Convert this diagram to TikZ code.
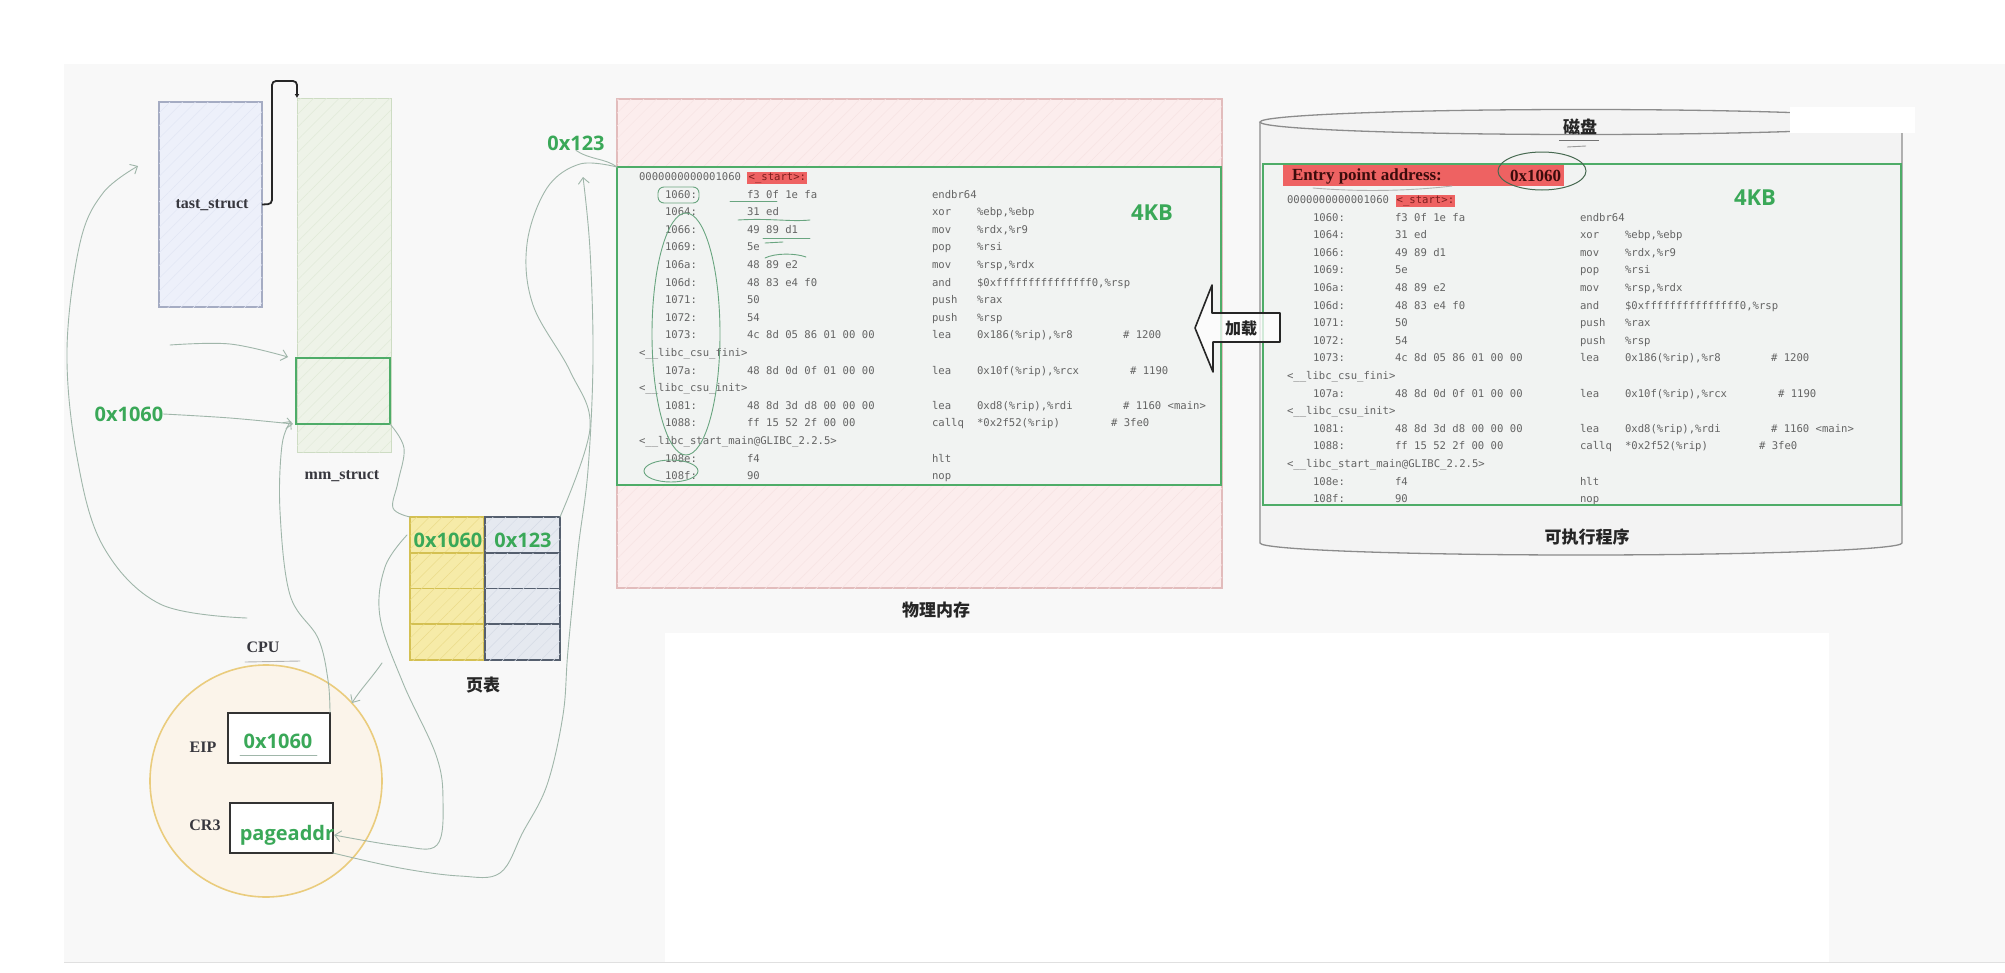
\documentclass[tikz,border=0pt]{standalone}
\usepackage{fontspec}
\setmainfont{Liberation Serif}
\newfontfamily\gsans{Open Sans}
\newfontfamily\cjk{Noto Sans CJK SC}
\newfontfamily\monof{DejaVu Sans Mono}
\usetikzlibrary{arrows.meta,patterns.meta,shapes.geometric}

\definecolor{pagebg}{RGB}{248,248,248}
\definecolor{gtext}{RGB}{58,168,88}
\definecolor{gborder}{RGB}{78,172,104}
\definecolor{darktext}{RGB}{55,55,62}
\definecolor{lstgray}{RGB}{100,100,100}
\definecolor{hl}{RGB}{238,98,98}
\definecolor{hltext}{RGB}{125,30,30}
\definecolor{entrytext}{RGB}{60,12,12}
\definecolor{curvecol}{RGB}{160,182,170}
\definecolor{notecol}{RGB}{105,165,128}
\definecolor{pinkfill}{RGB}{252,237,237}
\definecolor{pinkborder}{RGB}{226,188,188}
\definecolor{pinkhatch}{RGB}{247,227,227}
\definecolor{codefill}{RGB}{241,243,242}
\definecolor{tsfill}{RGB}{237,240,250}
\definecolor{tsborder}{RGB}{165,172,195}
\definecolor{tshatch}{RGB}{226,230,244}
\definecolor{mmfill}{RGB}{238,243,232}
\definecolor{mmborder}{RGB}{205,220,195}
\definecolor{mmhatch}{RGB}{225,234,216}
\definecolor{yfill}{RGB}{246,235,168}
\definecolor{yborder}{RGB}{212,192,82}
\definecolor{yhatch}{RGB}{234,219,138}
\definecolor{bfill}{RGB}{229,233,240}
\definecolor{bborder}{RGB}{85,95,110}
\definecolor{bhatch}{RGB}{212,218,228}
\definecolor{cpufill}{RGB}{251,244,234}
\definecolor{cpuborder}{RGB}{234,204,125}
\definecolor{diskfill}{RGB}{243,243,243}
\definecolor{diskborder}{RGB}{140,140,140}

\setlength{\fboxsep}{1.2pt}
\newcommand\lrow[5]{\hspace*{26pt}\makebox[82pt][l]{#1}\makebox[185pt][l]{#2}\makebox[45pt][l]{#3}\makebox[146pt][l]{#4}#5}
\newcommand\codelisting[3]{%
 \node[lst] (#1h) at (#2,#3) {0000000000001060 \colorbox{hl}{\textcolor{hltext}{<\_start>:}}};
 \node[lst] (#1r1) at (#2,#3+17.6) {\lrow{1060:}{f3 0f 1e fa}{endbr64}{}{}};
 \node[lst] (#1r2) at (#2,#3+35.2) {\lrow{1064:}{31 ed}{xor}{\%ebp,\%ebp}{}};
 \node[lst] (#1r3) at (#2,#3+52.8) {\lrow{1066:}{49 89 d1}{mov}{\%rdx,\%r9}{}};
 \node[lst] (#1r4) at (#2,#3+70.4) {\lrow{1069:}{5e}{pop}{\%rsi}{}};
 \node[lst] (#1r5) at (#2,#3+88) {\lrow{106a:}{48 89 e2}{mov}{\%rsp,\%rdx}{}};
 \node[lst] (#1r6) at (#2,#3+105.6) {\lrow{106d:}{48 83 e4 f0}{and}{\$0xfffffffffffffff0,\%rsp}{}};
 \node[lst] (#1r7) at (#2,#3+123.2) {\lrow{1071:}{50}{push}{\%rax}{}};
 \node[lst] (#1r8) at (#2,#3+140.8) {\lrow{1072:}{54}{push}{\%rsp}{}};
 \node[lst] (#1r9) at (#2,#3+158.4) {\lrow{1073:}{4c 8d 05 86 01 00 00}{lea}{0x186(\%rip),\%r8}{\# 1200}};
 \node[lst] (#1r10) at (#2,#3+176) {<\_\_libc\_csu\_fini>};
 \node[lst] (#1r11) at (#2,#3+193.6) {\lrow{107a:}{48 8d 0d 0f 01 00 00}{lea}{0x10f(\%rip),\%rcx}{\hspace*{7pt}\# 1190}};
 \node[lst] (#1r12) at (#2,#3+211.2) {<\_\_libc\_csu\_init>};
 \node[lst] (#1r13) at (#2,#3+228.8) {\lrow{1081:}{48 8d 3d d8 00 00 00}{lea}{0xd8(\%rip),\%rdi}{\# 1160 <main>}};
 \node[lst] (#1r14) at (#2,#3+246.4) {\lrow{1088:}{ff 15 52 2f 00 00}{callq}{*0x2f52(\%rip)}{\hspace*{-12pt}\# 3fe0}};
 \node[lst] (#1r15) at (#2,#3+264) {<\_\_libc\_start\_main@GLIBC\_2.2.5>};
 \node[lst] (#1r16) at (#2,#3+281.6) {\lrow{108e:}{f4}{hlt}{}{}};
 \node[lst] (#1r17) at (#2,#3+299.2) {\lrow{108f:}{90}{nop}{}{}};
}

\tikzset{
 every node/.style={inner sep=0pt, outer sep=0pt},
 glabel/.style={font=\gsans\bfseries\fontsize{20}{24}\selectfont, text=gtext},
 kblabel/.style={font=\gsans\bfseries\fontsize{22}{26}\selectfont, text=gtext},
 slabel/.style={font=\bfseries\fontsize{16}{19}\selectfont, text=darktext},
 clabel/.style={font=\cjk\bfseries\fontsize{17}{20}\selectfont, text=black!85},
 lst/.style={anchor=base west, font=\monof\fontsize{10.6}{12}\selectfont, text=lstgray},
 hand/.style={draw=curvecol, line width=0.9pt, line cap=round, line join=round},
 harrow/.style={hand, -{Straight Barb[length=6pt,width=11pt]}},
 note/.style={draw=notecol, line width=0.9pt, line cap=round},
 hatch/.style={postaction={pattern={Lines[angle=45,distance=9pt,line width=0.5pt]}, pattern color=#1}},
 ycell/.style={draw=yborder, fill=yfill, line width=1.6pt, minimum width=74, minimum height=36, hatch=yhatch},
 bcell/.style={draw=bborder, fill=bfill, line width=1.6pt, minimum width=75, minimum height=36, hatch=bhatch},
 regbox/.style={draw=black!80, fill=white, line width=1.6pt},
}

\begin{document}
\begin{tikzpicture}[x=1pt,y=-1pt]
\useasboundingbox (0,0) rectangle (2005,972);
\fill[white] (0,0) rectangle (2005,972);
\fill[pagebg] (64,64) rectangle (2005,962);
\fill[white] (665,633) rectangle (1829,962);
\draw[black!12] (64,962) -- (2005,962);

% ---------- physical memory ----------
\node[draw=pinkborder, fill=pinkfill, line width=1.2pt, minimum width=605, minimum height=489, hatch=pinkhatch] (phys) at (919.5,343.5) {};
\node[draw=gborder, fill=codefill, line width=2.4pt, minimum width=604, minimum height=318] (physpage) at (919,326) {};
\codelisting{p}{639}{180.5}
\node[kblabel] (pkb) at (1152,213) {4KB};
\node[clabel] (physlbl) at (936,610) {物理内存};
% hand annotations
\draw[note, rounded corners=6pt] (658,187) rectangle (699,203);
\draw[note] (686,334) ellipse [x radius=34, y radius=121];
\draw[note] (671,471) ellipse [x radius=27, y radius=11];
\draw[note] (730,201) -- (777,201);
\draw[note] (738,220) .. controls (770,218) and (790,222) .. (810,220);
\draw[note] (763,238) -- (810,238);
\draw[note] (765,243) -- (783,242);
\draw[note] (765,258) .. controls (775,253) and (795,253) .. (806,257);

% ---------- disk ----------
\fill[diskfill] (1260,122) -- (1260,543) arc[start angle=180, end angle=0, x radius=321, y radius=12] -- (1902,122) arc[start angle=0, end angle=-180, x radius=321, y radius=12.5] -- cycle;
\draw[diskborder, line width=1.3pt] (1581,122) ellipse [x radius=321, y radius=12.5];
\draw[diskborder, line width=1.3pt] (1260,122) -- (1260,543) arc[start angle=180, end angle=0, x radius=321, y radius=12] -- (1902,122);
\fill[white] (1790,107) rectangle (1915,133);
\node[draw=gborder, fill=codefill, line width=1.8pt, minimum width=638, minimum height=341] (diskpage) at (1582,334.5) {};
\node[fill=hl, minimum width=281, minimum height=21] (entry) at (1423.5,175.5) {};
\node[anchor=west, font=\bfseries\fontsize{17}{20}\selectfont, text=entrytext] (entrytxt) at (1292,176) {Entry point address:};
\node[anchor=west, font=\bfseries\fontsize{17}{20}\selectfont, text=entrytext] (entryval) at (1510,176) {0x1060};
\codelisting{d}{1287}{203.5}
\node[kblabel] (dkb) at (1755,198) {4KB};
\node[clabel] (disklbl) at (1580,127) {磁盘};
\node[clabel] (exelbl) at (1587,537) {可执行程序};
\draw[line width=1pt, draw={rgb,255:red,70;green,105;blue,80}] (1542,171) ellipse [x radius=44, y radius=19];
\draw[note, draw=black!30] (1313,188) .. controls (1360,192) and (1410,191) .. (1452,186);
\draw[line width=0.9pt, draw=black!55] (1559,140) -- (1599,140);
\draw[line width=0.9pt, draw=black!40] (1567,147) -- (1586,146);

% ---------- load arrow ----------
\draw[black!85, line width=1.6pt, fill=white, fill opacity=0.75, line join=round] (1195,328) -- (1212,285) -- (1212,313) -- (1280,313) -- (1280,342) -- (1213,342) -- (1213,372) -- cycle;
\node[clabel, font=\cjk\bfseries\fontsize{16}{19}\selectfont] (load) at (1241,329) {加载};

% ---------- task_struct / mm_struct ----------
\node[draw=tsborder, fill=tsfill, line width=1.4pt, minimum width=103, minimum height=205, hatch=tshatch] (task) at (210.5,204.5) {};
\node[slabel] (tasklbl) at (212,205) {tast\_struct};
\node[draw=mmborder, fill=mmfill, line width=1pt, minimum width=94, minimum height=354, hatch=mmhatch] (mm) at (344,275) {};
\node[draw=gborder, line width=2pt, minimum width=94, minimum height=66] (mmpage) at (343,391) {};
\node[slabel] (mmlbl) at (342,476) {mm\_struct};
\draw[black!85, line width=1.8pt, rounded corners=4pt, -{Latex[length=4pt,width=5pt]}] (task.east) -- (272,204) -- (272,81) -- (297,81) -- (mm.north west);

\node[glabel] (l1060) at (129,414) {0x1060};
\node[glabel] (l123) at (576,143) {0x123};

% ---------- page table ----------
\node[ycell] (py1) at (447,535) {};
\node[bcell] (pb1) at (522.5,535) {};
\node[ycell] (py2) at (447,571) {};
\node[bcell] (pb2) at (522.5,571) {};
\node[ycell] (py3) at (447,606.5) {};
\node[bcell] (pb3) at (522.5,606.5) {};
\node[ycell] (py4) at (447,642) {};
\node[bcell] (pb4) at (522.5,642) {};
\node[glabel] (pyv) at (448,540) {0x1060};
\node[glabel] (pbv) at (523,540) {0x123};
\node[clabel] (ptlbl) at (483,685) {页表};

% ---------- CPU ----------
\node[circle, draw=cpuborder, fill=cpufill, line width=1.6pt, minimum size=232] (cpu) at (266,781) {};
\node[slabel] (cpulbl) at (263,647) {CPU};
\draw[hand, draw=black!30] (245,662) -- (300,661);
\node[regbox, minimum width=102, minimum height=50] (eip) at (279,738) {};
\node[glabel] (eipval) at (278,741) {0x1060};
\draw[hand] (240,755) -- (317,755);
\node[slabel] (eiplbl) at (203,747) {EIP};
\node[regbox, minimum width=103, minimum height=50] (cr3) at (281.5,828) {};
\node[glabel] (cr3val) at (287,835) {pageaddr};
\node[slabel] (cr3lbl) at (205,825) {CR3};

% ---------- hand-drawn connectors ----------
\coordinate (c1s) at (247,618);
\coordinate (c1e) at (138,166);
\draw[harrow] plot[smooth, tension=0.6] coordinates {(c1s) (160,604) (103,546) (77,457) (67,350) (80,243) (103,193) (c1e)};
\coordinate (c2s) at (170,345);
\coordinate (c2e) at (288,357);
\draw[harrow] plot[smooth, tension=0.6] coordinates {(c2s) (230,344) (c2e)};
\draw[harrow] plot[smooth, tension=0.6] coordinates {(l1060.east) (230,418) ([xshift=-3pt]mmpage.south west)};
\draw[harrow] plot[smooth, tension=0.6] coordinates {(eip.north east) (328,680) (318,638) (290,595) (280,511) (282,445) ([xshift=-5pt, yshift=3pt]mmpage.south west)};
\draw[hand] plot[smooth, tension=0.6] coordinates {(mmpage.south east) (404,448) (398,482) (393,508) (py1.north west)};
\draw[harrow] plot[smooth, tension=0.6] coordinates {([xshift=-3pt]py1.west) (385,567) (380,617) (403,683) (436,755) (443,800) (437,845) (400,846) (cr3val.east)};
\coordinate (c7e) at (583,177);
\draw[harrow] plot[smooth, tension=0.6] coordinates {(cr3.south east) (400,868) (460,876) (500,873) (523,832) (547,785) (563,715) (568,650) (578,550) (588,470) (593,360) (590,250) (c7e)};
\draw[hand] plot[smooth, tension=0.6] coordinates {(pb1.north east) (590,428) (570,371) (533,305) (527,244) (547,188) (580,164) (physpage.north west)};
\draw[hand] (l123.south) .. controls (590,160) and (605,158) .. (physpage.north west);
\coordinate (c9s) at (382,663);
\coordinate (c9e) at (352,703);
\draw[harrow] (c9s) .. controls (370,680) and (360,690) .. (c9e);
\end{tikzpicture}
\end{document}
